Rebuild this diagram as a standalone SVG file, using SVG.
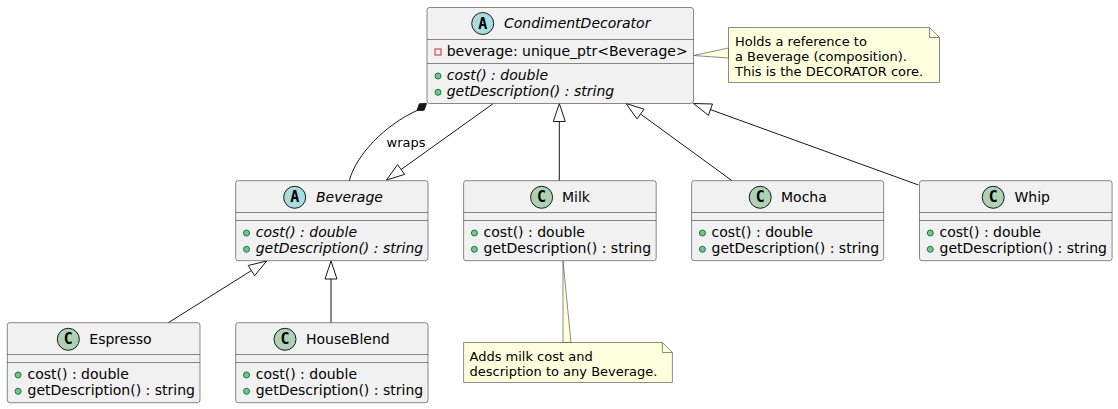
<svg xmlns="http://www.w3.org/2000/svg" width="1118" height="409" viewBox="0 0 1118 409">
<style>
.box{fill:#F1F1F1;stroke:#181818;stroke-width:0.5}
.sep{stroke:#181818;stroke-width:0.5}
.abs{fill:#A9DCDF;stroke:#181818;stroke-width:1}
.cls{fill:#ADD1B2;stroke:#181818;stroke-width:1}
.ltr{font-family:"DejaVu Sans Mono","Liberation Mono",monospace;font-weight:bold;font-size:15px;fill:#000;text-anchor:middle}
.t{font-family:"DejaVu Sans","Liberation Sans",sans-serif;font-size:14px;fill:#000}
.i{font-style:italic}
.lbl{font-family:"DejaVu Sans","Liberation Sans",sans-serif;font-size:13px;fill:#000}
.pub{fill:#84BE84;stroke:#038048;stroke-width:1}
.priv{fill:none;stroke:#C82930;stroke-width:1}
.note{fill:#FEFFDD;stroke:#181818;stroke-width:0.5}
.ln{fill:none;stroke:#181818;stroke-width:1}
.tri{fill:#FFFFFF;stroke:#181818;stroke-width:1}
.dia{fill:#181818;stroke:#181818;stroke-width:1}
</style>

<g id="connectors">
  <!-- composition CondimentDecorator -> Beverage -->
  <path class="ln" d="M417,110.5 C385,125 356,155 349.3,180.7"/>
  <polygon class="dia" points="426.5,103.5 424.1,110.2 417,110.5 419.4,103.8"/>
  <text class="lbl" x="386.5" y="146.5">wraps</text>
  <!-- CondimentDecorator extends Beverage -->
  <line class="ln" x1="493.3" y1="103.5" x2="401.1" y2="169.5"/>
  <polygon class="tri" points="386.5,180 404.6,174.4 397.6,164.6"/>
  <!-- Milk extends CondimentDecorator -->
  <line class="ln" x1="559.3" y1="180.7" x2="559.3" y2="121.5"/>
  <polygon class="tri" points="559.3,103.5 553.3,121.5 565.3,121.5"/>
  <!-- Mocha extends CondimentDecorator -->
  <line class="ln" x1="732" y1="180.7" x2="640.6" y2="114.1"/>
  <polygon class="tri" points="626,103.5 637,118.9 644.1,109.2"/>
  <!-- Whip extends CondimentDecorator -->
  <line class="ln" x1="918.5" y1="185" x2="710.4" y2="109.6"/>
  <polygon class="tri" points="693.5,103.5 708.4,115.3 712.5,104"/>
  <!-- Espresso extends Beverage -->
  <line class="ln" x1="168.3" y1="322.7" x2="251.4" y2="270.6"/>
  <polygon class="tri" points="266.7,261 254.6,275.7 248.2,265.5"/>
  <!-- HouseBlend extends Beverage -->
  <line class="ln" x1="331" y1="322.7" x2="331" y2="279"/>
  <polygon class="tri" points="331,261 325,279 337,279"/>
  <!-- note links -->
  <polygon class="note" points="693.5,55.5 728.5,48 728.5,58"/>
  <polygon class="note" points="563,261 563,342.5 571,342.5"/>
</g>

<g id="CondimentDecorator">
  <rect class="box" x="427" y="7.5" width="266.5" height="96" rx="2.5"/>
  <line class="sep" x1="427" y1="39.5" x2="693.5" y2="39.5"/>
  <line class="sep" x1="427" y1="63.5" x2="693.5" y2="63.5"/>
  <circle class="abs" cx="482.7" cy="23.5" r="11"/>
  <text class="ltr" x="482.7" y="28.5">A</text>
  <text class="t i" x="504" y="28">CondimentDecorator</text>
  <rect class="priv" x="435" y="49" width="6" height="6"/>
  <text class="t" x="446.7" y="55.8">beverage: unique_ptr&lt;Beverage&gt;</text>
  <circle class="pub" cx="438" cy="76" r="3"/>
  <text class="t i" x="446.7" y="79.8">cost() : double</text>
  <circle class="pub" cx="438" cy="92.3" r="3"/>
  <text class="t i" x="446.7" y="96.1">getDescription() : string</text>
</g>

<g id="note-decorator">
  <path class="note" d="M728.5,27.5 L929.5,27.5 L939.5,37.5 L939.5,82.5 L728.5,82.5 Z"/>
  <path class="ln" style="stroke-width:0.5" d="M929.5,27.5 L929.5,37.5 L939.5,37.5"/>
  <text class="lbl" x="735" y="46">Holds a reference to</text>
  <text class="lbl" x="735" y="61">a Beverage (composition).</text>
  <text class="lbl" x="735" y="76">This is the DECORATOR core.</text>
</g>

<g id="Beverage">
  <rect class="box" x="235.7" y="180.7" width="192.3" height="80" rx="2.5"/>
  <line class="sep" x1="235.7" y1="212.5" x2="428" y2="212.5"/>
  <line class="sep" x1="235.7" y1="220.5" x2="428" y2="220.5"/>
  <circle class="abs" cx="294.7" cy="197.3" r="11"/>
  <text class="ltr" x="294.7" y="202.3">A</text>
  <text class="t i" x="316" y="201.7">Beverage</text>
  <circle class="pub" cx="246.5" cy="233" r="3"/>
  <text class="t i" x="255.7" y="236.8">cost() : double</text>
  <circle class="pub" cx="246.5" cy="249.3" r="3"/>
  <text class="t i" x="255.7" y="253.1">getDescription() : string</text>
</g>

<g id="Milk">
  <rect class="box" x="463.6" y="180.7" width="192.6" height="80" rx="2.5"/>
  <line class="sep" x1="463.6" y1="212.5" x2="656.2" y2="212.5"/>
  <line class="sep" x1="463.6" y1="220.5" x2="656.2" y2="220.5"/>
  <circle class="cls" cx="541.6" cy="197.3" r="11"/>
  <text class="ltr" x="541.6" y="202.3">C</text>
  <text class="t" x="562" y="201.7">Milk</text>
  <circle class="pub" cx="474.4" cy="233" r="3"/>
  <text class="t" x="483.6" y="236.8">cost() : double</text>
  <circle class="pub" cx="474.4" cy="249.3" r="3"/>
  <text class="t" x="483.6" y="253.1">getDescription() : string</text>
</g>

<g id="Mocha">
  <rect class="box" x="691.6" y="180.7" width="192.1" height="80" rx="2.5"/>
  <line class="sep" x1="691.6" y1="212.5" x2="883.7" y2="212.5"/>
  <line class="sep" x1="691.6" y1="220.5" x2="883.7" y2="220.5"/>
  <circle class="cls" cx="760.2" cy="197.3" r="11"/>
  <text class="ltr" x="760.2" y="202.3">C</text>
  <text class="t" x="781" y="201.7">Mocha</text>
  <circle class="pub" cx="702.4" cy="233" r="3"/>
  <text class="t" x="711.6" y="236.8">cost() : double</text>
  <circle class="pub" cx="702.4" cy="249.3" r="3"/>
  <text class="t" x="711.6" y="253.1">getDescription() : string</text>
</g>

<g id="Whip">
  <rect class="box" x="919.5" y="180.7" width="192.6" height="80" rx="2.5"/>
  <line class="sep" x1="919.5" y1="212.5" x2="1112.1" y2="212.5"/>
  <line class="sep" x1="919.5" y1="220.5" x2="1112.1" y2="220.5"/>
  <circle class="cls" cx="993.2" cy="197.3" r="11"/>
  <text class="ltr" x="993.2" y="202.3">C</text>
  <text class="t" x="1014.5" y="201.7">Whip</text>
  <circle class="pub" cx="930.3" cy="233" r="3"/>
  <text class="t" x="939.5" y="236.8">cost() : double</text>
  <circle class="pub" cx="930.3" cy="249.3" r="3"/>
  <text class="t" x="939.5" y="253.1">getDescription() : string</text>
</g>

<g id="note-milk">
  <path class="note" d="M463.6,342.5 L662.4,342.5 L672.4,352.5 L672.4,382.5 L463.6,382.5 Z"/>
  <path class="ln" style="stroke-width:0.5" d="M662.4,342.5 L662.4,352.5 L672.4,352.5"/>
  <text class="lbl" x="469.5" y="360.5">Adds milk cost and</text>
  <text class="lbl" x="469.5" y="375.5">description to any Beverage.</text>
</g>

<g id="Espresso">
  <rect class="box" x="7.3" y="322.7" width="192.7" height="80" rx="2.5"/>
  <line class="sep" x1="7.3" y1="354.5" x2="200" y2="354.5"/>
  <line class="sep" x1="7.3" y1="362.5" x2="200" y2="362.5"/>
  <circle class="cls" cx="68.3" cy="339.3" r="11"/>
  <text class="ltr" x="68.3" y="344.3">C</text>
  <text class="t" x="89.3" y="343.7">Espresso</text>
  <circle class="pub" cx="18.1" cy="375" r="3"/>
  <text class="t" x="27.5" y="378.8">cost() : double</text>
  <circle class="pub" cx="18.1" cy="391.3" r="3"/>
  <text class="t" x="27.5" y="395.1">getDescription() : string</text>
</g>

<g id="HouseBlend">
  <rect class="box" x="235.7" y="322.7" width="192.3" height="80" rx="2.5"/>
  <line class="sep" x1="235.7" y1="354.5" x2="428" y2="354.5"/>
  <line class="sep" x1="235.7" y1="362.5" x2="428" y2="362.5"/>
  <circle class="cls" cx="285" cy="339.3" r="11"/>
  <text class="ltr" x="285" y="344.3">C</text>
  <text class="t" x="306" y="343.7">HouseBlend</text>
  <circle class="pub" cx="246.5" cy="375" r="3"/>
  <text class="t" x="255.7" y="378.8">cost() : double</text>
  <circle class="pub" cx="246.5" cy="391.3" r="3"/>
  <text class="t" x="255.7" y="395.1">getDescription() : string</text>
</g>
</svg>
